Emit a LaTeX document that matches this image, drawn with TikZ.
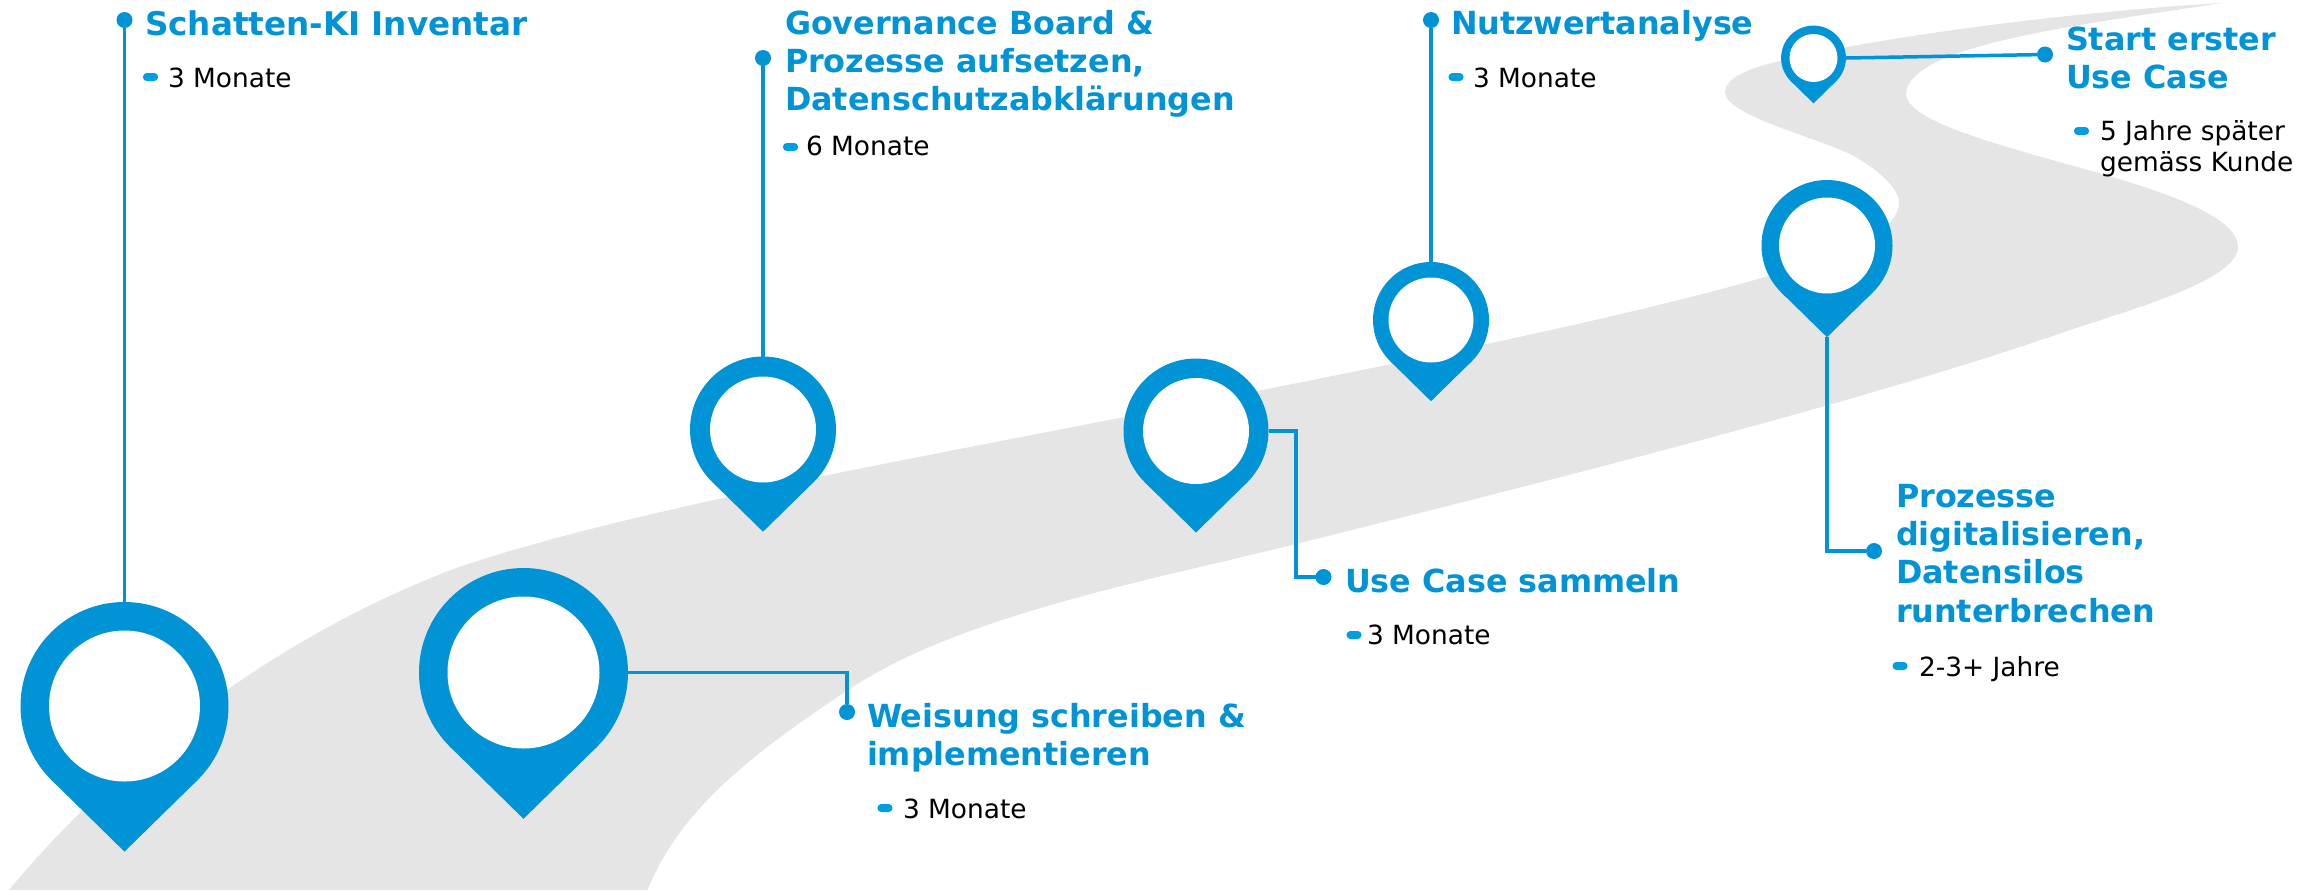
\documentclass[tikz,border=0pt]{standalone}
\usepackage{fontspec}
\setmainfont{DejaVu Sans}
\definecolor{pinblue}{RGB}{0,147,214}
\definecolor{dotblue}{RGB}{0,157,224}
\definecolor{roadgrey}{RGB}{229,229,229}
\tikzset{
  titletext/.style={anchor=north west,inner sep=0pt,outer sep=0pt,align=left,text=pinblue,font=\fontsize{15.9}{19.2}\selectfont\bfseries},
  bodytext/.style={anchor=north west,inner sep=0pt,outer sep=0pt,align=left,text=black,font=\fontsize{13.2}{15.5}\selectfont},
  enddot/.style={circle,fill=pinblue,inner sep=0pt,outer sep=0pt,minimum size=8pt},
  pill/.style={rectangle,rounded corners=1.9pt,fill=dotblue,inner sep=0pt,outer sep=0pt,minimum width=7.5pt,minimum height=4pt},
  conn/.style={draw=pinblue,line width=1.75pt,line join=miter},
  pinring/.style={circle,fill=pinblue,inner sep=0pt,outer sep=0pt},
  pinhole/.style={circle,fill=white,inner sep=0pt,outer sep=0pt}
}
\newcommand{\pinmark}[5]{%
  \fill[pinblue] ({#2-0.7*#4},{#3+0.714*#4}) -- ({#2},{#3+1.4*#4}) coordinate (#1tip) -- ({#2+0.7*#4},{#3+0.714*#4}) -- cycle;
  \node[pinring,minimum size=#4pt] (#1) at (#2,#3) {};
  \node[pinhole,minimum size=#5pt] (#1hole) at (#2,#3) {};
}
\newcommand{\titleblock}[4]{\node[titletext] (#1) at (#2,{#3-25}) {\rule{0pt}{12.5pt}#4};}
\newcommand{\bodyblock}[4]{\node[bodytext] (#1) at (#2,{#3-21}) {\rule{0pt}{10.5pt}#4};}
\begin{document}
\begin{tikzpicture}[x=0.5pt,y=-0.5pt]
\useasboundingbox (0,0) rectangle (2309,890);
% road
\fill[roadgrey] (9,890)
  .. controls (130,745) and (290,630) .. (459,567)
  .. controls (570,530) and (700,503) .. (823,476)
  .. controls (1100,420) and (1550,340) .. (1772,275)
  .. controls (1850,250) and (1899,230) .. (1899,203)
  .. controls (1899,185) and (1870,165) .. (1852,155)
  .. controls (1810,135) and (1725,115) .. (1725,92)
  .. controls (1725,78) and (1750,68) .. (1776,62)
  .. controls (1900,32) and (2100,10) .. (2222,3)
  .. controls (2080,25) and (1906,45) .. (1906,95)
  .. controls (1910,125) and (2020,150) .. (2112,177)
  .. controls (2190,200) and (2238,222) .. (2238,247)
  .. controls (2238,280) and (2130,310) .. (2070,330)
  .. controls (1870,400) and (1560,478) .. (1300,543)
  .. controls (1150,580.5) and (960,615) .. (848,690)
  .. controls (750,755) and (680,810) .. (647.5,890)
  -- cycle;
% pins
\pinmark{pa}{124.5}{706}{104}{75.5}
\pinmark{pb}{523.5}{672.5}{104.5}{76}
\pinmark{pc}{763}{429.5}{73}{53}
\pinmark{pd}{1196}{431}{72.5}{53}
\pinmark{pe}{1431}{320}{58}{42.5}
\pinmark{pf}{1827}{245.5}{65.5}{48}
\pinmark{pg}{1813.5}{58}{32.4}{24}
% end dots
\node[enddot] (da) at (124.5,20) {};
\node[enddot] (db) at (847,712) {};
\node[enddot] (dc) at (763,58) {};
\node[enddot] (dd) at (1323.5,577) {};
\node[enddot] (de) at (1431,20) {};
\node[enddot] (df) at (1874,551) {};
\node[enddot] (dg) at (2045,54.5) {};
\coordinate (cd) at (1296,577);
\coordinate (cf) at (1827,551);
% connectors
\draw[conn] (pa.north) -- (da);
\draw[conn] (pb.east) -| (db);
\draw[conn] (pc.north) -- (dc);
\draw[conn] (pd.east) -| (cd) -- (dd);
\draw[conn] (pe.north) -- (de);
\draw[conn] (pftip) -- (cf) -- (df);
\draw[conn] (pg.east) -- (dg);
% texts
\titleblock{ta}{145}{35}{\fontsize{16.3}{19.2}\selectfont Schatten-KI Inventar}
\node[pill] (ba) at (150.5,77) {};
\bodyblock{xa}{168}{87}{3 Monate}
\titleblock{tb}{867}{727}{Weisung schreiben \&\\implementieren}
\node[pill] (bb) at (885,808) {};
\bodyblock{xb}{903}{818}{3 Monate}
\titleblock{tc}{785}{34}{Governance Board \&\\Prozesse aufsetzen,\\Datenschutzabklärungen}
\node[pill] (bc) at (790.5,147) {};
\bodyblock{xc}{806}{155}{6 Monate}
\titleblock{td}{1345}{592}{Use Case sammeln}
\node[pill] (bd) at (1354,635) {};
\bodyblock{xd}{1367}{644}{3 Monate}
\titleblock{te}{1451}{34}{Nutzwertanalyse}
\node[pill] (be) at (1456,77) {};
\bodyblock{xe}{1473}{87}{3 Monate}
\titleblock{tf}{1896}{507}{Prozesse\\digitalisieren,\\Datensilos\\runterbrechen}
\node[pill] (bf) at (1900,666) {};
\bodyblock{xf}{1919}{676}{2-3+ Jahre}
\titleblock{tg}{2066}{50}{Start erster\\Use Case}
\node[pill] (bg) at (2081.5,131) {};
\bodyblock{xg}{2100}{140}{5 Jahre später\\gemäss Kunde}
\end{tikzpicture}
\end{document}
